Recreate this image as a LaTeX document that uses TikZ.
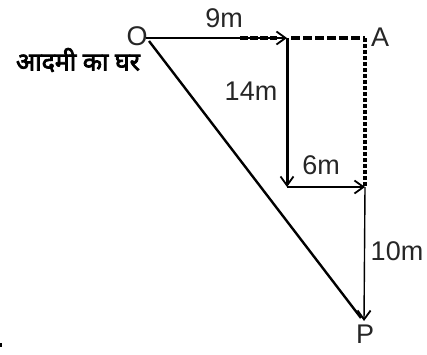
\documentclass[tikz,border=0pt]{standalone}
\usepackage{fontspec}
\setmainfont{Liberation Sans}
\newfontfamily\hindifont[Script=Devanagari, FakeBold=3]{Noto Sans}
\usetikzlibrary{arrows.meta}
\begin{document}
\begin{tikzpicture}[x=1pt,y=-1pt,
  lbl/.style={font=\fontsize{27}{27}\selectfont, text=black!85, inner sep=0pt},
  arr/.style={-{Straight Barb[length=9pt,width=13pt,line width=1.8pt]}}]
\useasboundingbox (0,0) rectangle (427,354);
% points
\node[lbl] (O) at (137,36) {O};
\node[lbl] (A) at (380,37) {A};
\node[lbl] (P) at (365,334) {P};
\coordinate (Os) at (146,38);
\coordinate (Od) at (149,41);
\coordinate (B) at (287,38);
\coordinate (Bd1) at (240,38);
\coordinate (Bd2) at (277,38);
\coordinate (Bn) at (291,38);
\coordinate (Ac) at (365,38);
\coordinate (C) at (287,187);
\coordinate (D) at (365,187);
\coordinate (Pt) at (364,321);
\coordinate (Pd) at (361,318);
% lines
\draw[line width=1.4pt, arr] (Os) -- (B);
\draw[line width=4pt, dash pattern=on 8pt off 2pt] (Bd1) -- (Bd2);
\draw[line width=4pt, dash pattern=on 9pt off 3pt] (Bn) -- (Ac);
\draw[line width=4pt, dash pattern=on 4pt off 2pt] (Ac) -- (D);
\draw[line width=3pt, arr] (B) -- (C);
\draw[line width=2.2pt, arr] (C) -- (D);
\draw[line width=1.4pt, arr] (D) -- (Pt);
\draw[line width=2.4pt] (Od) -- (Pd);
% labels
\node[lbl] (l9) at (224,18) {9m};
\node[lbl] (l14) at (251,91) {14m};
\node[lbl] (l6) at (321,165) {6m};
\node[lbl] (l10) at (397,251) {10m};
\node[inner sep=0pt, font=\hindifont\fontsize{25}{25}\selectfont] (home) at (78,60) {आदमी का घर};
\fill (0,343) rectangle (2,347);
\end{tikzpicture}
\end{document}
